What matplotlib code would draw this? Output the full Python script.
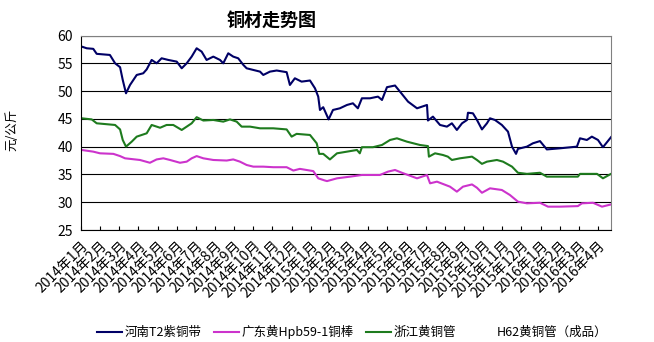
import matplotlib
matplotlib.use("Agg")
import matplotlib.pyplot as plt
from matplotlib.lines import Line2D
from matplotlib.transforms import ScaledTranslation

plt.rcParams['font.family'] = ['Noto Sans CJK SC', 'DejaVu Sans']

title = "铜材走势图"
ylabel = "元/公斤"
series_names = ["河南T2紫铜带", "广东黄Hpb59-1铜棒", "浙江黄铜管", "H62黄铜管（成品）"]
month_labels = [f"{y}年{m}月" for y in (2014, 2015, 2016) for m in range(1, 13)][:28]

# time in months since 2014-01-01
t_henan = [0.04, 0.30, 0.64, 0.82, 1.51, 1.78, 2.04, 2.18, 2.35, 2.56, 2.91, 3.25, 3.43, 3.69,
           3.95, 4.21, 4.56, 5.00, 5.26, 5.52, 5.78, 6.04, 6.30, 6.56, 6.91, 7.26, 7.43, 7.69,
           7.95, 8.21, 8.48, 8.65, 9.00, 9.35, 9.52, 9.87, 10.22, 10.74, 10.91, 11.17, 11.52,
           11.96, 12.22, 12.39, 12.48, 12.65, 12.83, 12.93, 13.16, 13.52, 13.89, 14.20, 14.46,
           14.67, 15.09, 15.51, 15.72, 15.98, 16.40, 16.66, 17.08, 17.55, 18.07, 18.12, 18.38,
           18.75, 19.11, 19.37, 19.63, 19.90, 20.16, 20.21, 20.47, 20.68, 20.94, 21.20, 21.36,
           21.62, 21.98, 22.30, 22.51, 22.72, 22.82, 23.29, 23.60, 23.97, 24.33, 25.01, 25.90,
           26.06, 26.42, 26.68, 27.00, 27.26, 27.47, 27.68]
v_henan = [58.0, 57.7, 57.6, 56.7, 56.5, 55.0, 54.3, 52.0, 49.6, 51.1, 52.9, 53.2, 53.9, 55.6,
           55.0, 55.9, 55.6, 55.3, 54.1, 55.0, 56.2, 57.7, 57.1, 55.6, 56.2, 55.6, 55.0, 56.8,
           56.2, 55.9, 54.7, 54.1, 53.8, 53.5, 52.9, 53.5, 53.7, 53.4, 51.1, 52.3, 51.7,
           51.9, 50.5, 49.0, 46.6, 47.1, 45.7, 44.9, 46.6, 46.9, 47.5, 47.8, 46.9,
           48.7, 48.7, 49.0, 48.4, 50.7, 51.0, 49.9, 48.1, 46.9, 47.5, 44.7, 45.4,
           43.9, 43.6, 44.2, 43.0, 44.2, 44.8, 46.1, 46.0, 44.8, 43.1, 44.2, 45.1,
           44.8, 43.9, 42.7, 40.0, 38.7, 39.6, 40.0, 40.6, 41.0, 39.5, 39.7, 40.0,
           41.5, 41.2, 41.8, 41.2, 39.9, 40.8, 41.7]

t_guangdong = [0.04, 0.64, 0.99, 1.69, 2.04, 2.30, 3.08, 3.60, 3.95, 4.30, 4.65, 5.17, 5.52,
               5.78, 6.04, 6.39, 6.91, 7.61, 7.95, 8.30, 8.65, 9.00, 9.52, 10.04, 10.74, 11.09,
               11.43, 12.13, 12.39, 12.74, 12.85, 13.37, 14.05, 14.67, 15.61, 16.03, 16.40,
               16.76, 17.55, 18.07, 18.23, 18.59, 19.27, 19.63, 19.95, 20.42, 20.68, 20.94,
               21.36, 21.98, 22.40, 22.82, 23.29, 23.97, 24.39, 25.01, 25.95, 26.16, 26.74,
               27.21, 27.68]
v_guangdong = [39.4, 39.1, 38.8, 38.7, 38.3, 37.9, 37.6, 37.1, 37.7, 37.9, 37.6, 37.1, 37.3,
               37.9, 38.3, 37.9, 37.6, 37.5, 37.7, 37.3, 36.7, 36.4, 36.4, 36.3, 36.3, 35.7,
               36.0, 35.6, 34.3, 33.9, 33.8, 34.3, 34.6, 34.9, 34.9, 35.5, 35.8,
               35.3, 34.3, 34.9, 33.4, 33.7, 32.8, 31.9, 32.8, 33.2, 32.6, 31.7,
               32.5, 32.2, 31.3, 30.1, 29.8, 29.9, 29.2, 29.2, 29.3, 29.8, 29.9,
               29.2, 29.6]

t_zhejiang = [0.04, 0.56, 0.82, 1.78, 2.04, 2.18, 2.35, 2.65, 2.91, 3.43, 3.69, 4.13, 4.47,
              4.82, 5.26, 5.52, 5.78, 6.04, 6.39, 6.91, 7.43, 7.78, 8.13, 8.39, 8.83, 9.35,
              10.04, 10.74, 11.00, 11.26, 11.96, 12.31, 12.44, 12.65, 13.00, 13.37, 13.89,
              14.41, 14.56, 14.67, 15.25, 15.72, 16.14, 16.50, 17.02, 17.70, 18.12, 18.17,
              18.49, 18.90, 19.16, 19.37, 19.79, 20.42, 20.68, 20.94, 21.20, 21.72, 22.04,
              22.51, 22.82, 23.29, 23.97, 24.33, 25.01, 25.95, 26.06, 26.95, 27.26, 27.68]
v_zhejiang = [45.1, 44.9, 44.2, 43.9, 43.1, 41.2, 40.0, 40.9, 41.8, 42.4, 43.9, 43.4, 43.9,
              43.9, 43.0, 43.6, 44.2, 45.3, 44.7, 44.8, 44.5, 44.9, 44.5, 43.6, 43.6, 43.3,
              43.3, 43.1, 41.8, 42.3, 42.1, 40.6, 38.7, 38.7, 37.7, 38.8, 39.1,
              39.4, 38.8, 39.9, 39.9, 40.3, 41.2, 41.5, 40.9, 40.3, 40.1, 38.2,
              38.8, 38.5, 38.2, 37.6, 37.9, 38.2, 37.6, 36.9, 37.3, 37.6, 37.3,
              36.4, 35.3, 35.1, 35.3, 34.6, 34.6, 34.6, 35.1, 35.1, 34.3, 35.1]

colors = ["#000066", "#CC33CC", "#1E7B1E", "#FFFFFF"]

fig = plt.figure(figsize=(6.54, 3.42), dpi=100)
ax = fig.add_axes([81/654, 1-230/342, (611-81)/654, (230-35.5)/342])

ax.plot(t_henan, v_henan, color=colors[0], lw=1.5)
ax.plot(t_guangdong, v_guangdong, color=colors[1], lw=1.5)
ax.plot(t_zhejiang, v_zhejiang, color=colors[2], lw=1.5)

ax.set_ylim(25, 60)
ax.set_yticks(range(25, 61, 5))
ax.set_xlim(0, 27.68)
ax.set_xticks(range(len(month_labels)))
ax.set_xticklabels(month_labels, rotation=45, ha='right', va='top',
                   rotation_mode='anchor', fontsize=10)
off = ScaledTranslation(-18/100, -10/100, fig.dpi_scale_trans)
for lab in ax.get_xticklabels():
    lab.set_transform(lab.get_transform() + off)
ax.tick_params(axis='x', direction='in', length=3, width=0.8, pad=6)
ax.tick_params(axis='y', length=0, labelsize=10, pad=6)
ax.grid(axis='y', color='black', lw=0.8)
ax.set_axisbelow(True)
for s in ('top', 'right'):
    ax.spines[s].set_color('#808080')
for s in ('left', 'bottom'):
    ax.spines[s].set_color('black')

fig.text(272/654, 1-20/342, title, ha='center', va='center', fontsize=13, fontweight='bold')
fig.text(12/654, 1-130/342, ylabel, ha='center', va='center', rotation=90, fontsize=9)

handles = [Line2D([], [], color=c, lw=1.5) for c in colors]
fig.legend(handles, series_names, loc='center', bbox_to_anchor=(352/654, 1-332/342),
           ncol=4, frameon=False, fontsize=9, handlelength=2.0, handletextpad=0.2,
           columnspacing=1.0)

fig.savefig("out.png", dpi=100)
